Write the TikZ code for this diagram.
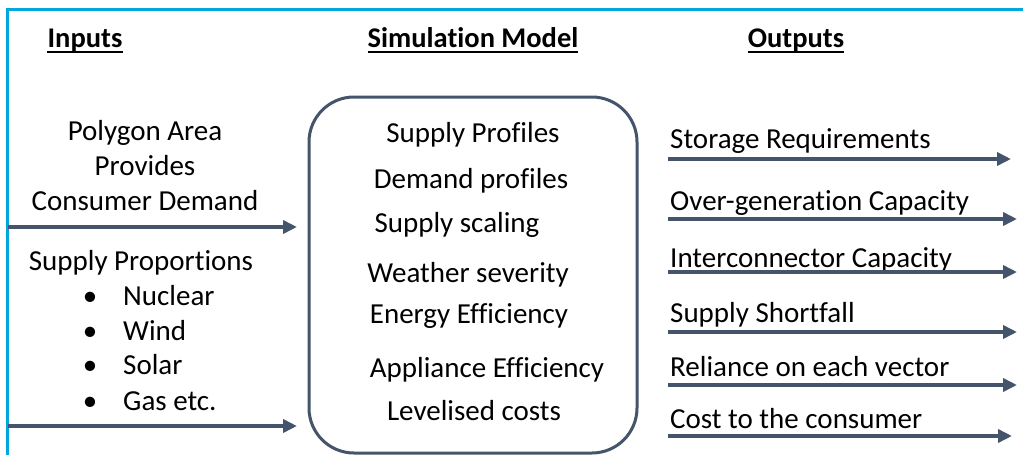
\documentclass[tikz,border=0pt]{standalone}
\usepackage{fontspec}
\setmainfont{Carlito}[Ligatures=NoCommon]
\usetikzlibrary{arrows.meta}
\definecolor{slate}{RGB}{68,84,106}
\definecolor{frameblue}{RGB}{0,166,222}
\begin{document}
\begin{tikzpicture}[x=1pt,y=-1pt,
  txt/.style={inner sep=0pt,anchor=base,font=\fontsize{29}{35}\selectfont},
  txtl/.style={txt,anchor=base west},
  head/.style={txt,font=\fontsize{28.5}{34}\selectfont\bfseries},
  uline/.style={line width=2pt,black},
  flow/.style={draw=slate,line width=4pt,-{Triangle[length=14pt,width=13pt]}},
  modelbox/.style={draw=slate,line width=3pt,rounded corners=45pt,
    minimum width=328pt,minimum height=356pt,inner sep=0pt}]
\useasboundingbox (0,0) rectangle (1023,455);
% frame
\draw[frameblue,line width=3pt] (1024,9) -- (7,9) -- (7,456);

% headings
\node[head] (hin) at (85,47) {Inputs};
\node[head] (hsim) at (473,47) {Simulation Model};
\node[head] (hout) at (796,47) {Outputs};
\foreach \h in {hin,hsim,hout}
  \draw[uline] ([yshift=-5pt]\h.base west) -- ([yshift=-5pt]\h.base east);

% model box
\node[modelbox] (model) at (473,275) {};
\node[txt] (m1) at (473,142) {Supply Profiles};
\node[txt] (m2) at (471,188) {Demand profiles};
\node[txt] (m3) at (457,232) {Supply scaling};
\node[txt] (m4) at (468,282) {Weather severity};
\node[txt] (m5) at (469,323) {Energy Efficiency};
\node[txt] (m6) at (487,377) {Appliance Efficiency};
\node[txt] (m7) at (474,420) {Levelised costs};

% inputs
\node[txt] (i1) at (145,140) {Polygon Area};
\node[txt] (i2) at (145,175) {Provides};
\node[txt] (i3) at (145,210) {Consumer Demand};
\node[txt] (i4) at (141,270) {Supply Proportions};
\foreach \n/\y/\t in {b1/305/Nuclear,b2/340/Wind,b3/374/Solar,b4/410/Gas etc.}{
  \node[txt] (\n dot) at (90,\y) {•};
  \node[txtl] (\n) at (123,\y) {\t};
}
\coordinate (ina) at (8,227);
\coordinate (inaend) at (297,227);
\coordinate (inb) at (8,426);
\coordinate (inbend) at (297,426);
\draw[flow] (ina) -- (inaend);
\draw[flow] (inb) -- (inbend);

% outputs
\foreach \n/\ty/\ay/\ax/\t in {
  o1/148/159/1011/Storage Requirements,
  o2/210/219/1017/Over-generation Capacity,
  o3/267/272/1017/Interconnector Capacity,
  o4/322/332/1017/Supply Shortfall,
  o5/376/385/1017/Reliance on each vector,
  o6/428/436/1012/Cost to the consumer}{
  \node[txtl] (\n) at (670,\ty) {\t};
  \coordinate (\n s) at (668,\ay);
  \coordinate (\n e) at (\ax,\ay);
  \draw[flow] (\n s) -- (\n e);
}
\end{tikzpicture}
\end{document}
